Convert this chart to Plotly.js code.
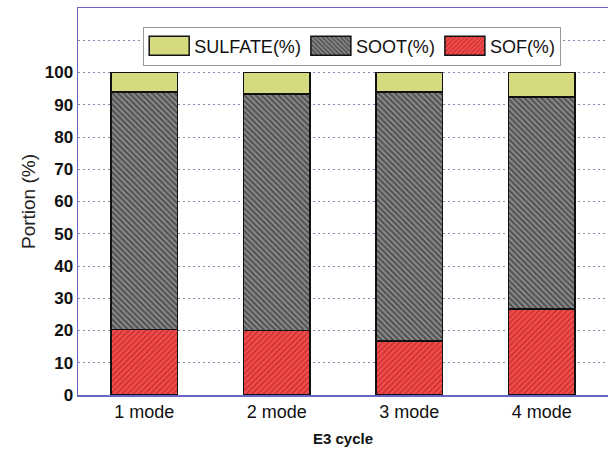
<!DOCTYPE html>
<html>
<head>
<meta charset="utf-8">
<script src="https://cdn.plot.ly/plotly-3.0.1.min.js"></script>
<style>html,body{margin:0;padding:0;overflow:hidden;background:#fff;}</style>
</head>
<body>
<div id="chart" style="width:608px;height:450px;"></div>
<script>
const categories = ["1 mode", "2 mode", "3 mode", "4 mode"];
const sof = [20.3, 20.0, 16.8, 26.6];
const soot = [73.7, 73.4, 77.1, 65.8];
const sulfate = [6.0, 6.6, 6.1, 7.6];
const yTickVals = [0, 10, 20, 30, 40, 50, 60, 70, 80, 90, 100, 110];
const yTickText = ["0", "10", "20", "30", "40", "50", "60", "70", "80", "90", "100", ""];

const line = {color: "#111", width: 1.5};
const traces = [
  {type: "bar", name: "SOF(%)", x: categories, y: sof, width: 0.5,
   marker: {color: "#f04848", line: line,
            pattern: {shape: "/", fgcolor: "#8a1010", bgcolor: "#f44c4c", size: 4, solidity: 0.35, fillmode: "overlay"}}},
  {type: "bar", name: "SOOT(%)", x: categories, y: soot, width: 0.5,
   marker: {color: "#808080", line: line,
            pattern: {shape: "\\", fgcolor: "#111", bgcolor: "#8c8c8c", size: 4, solidity: 0.5, fillmode: "overlay"}}},
  {type: "bar", name: "SULFATE(%)", x: categories, y: sulfate, width: 0.5,
   marker: {color: "#d5da7e", line: line}}
];

const axisColor = "#6a64c8";
const layout = {
  width: 608, height: 450,
  margin: {l: 78, r: 0, t: 8, b: 55},
  barmode: "stack",
  paper_bgcolor: "#fff", plot_bgcolor: "#fff",
  font: {family: "Liberation Sans, Arial, sans-serif", color: "#111"},
  showlegend: true,
  legend: {orientation: "h", traceorder: "reversed", x: 0.123, xanchor: "left", y: 0.952, yanchor: "top",
           bgcolor: "#fff", bordercolor: "#999", borderwidth: 1, font: {size: 18, color: "#111"},
           itemwidth: 40, tracegroupgap: 0},
  xaxis: {
    range: [-0.5, 3.5], showline: true, linecolor: axisColor, linewidth: 1.5, mirror: true,
    showgrid: false, ticks: "", tickfont: {size: 18, color: "#111"},
    title: {text: "<b>E3 cycle</b>", font: {size: 15, color: "#111"}, standoff: 12}
  },
  yaxis: {
    range: [0, 120], tickvals: yTickVals, ticktext: yTickText,
    showline: true, linecolor: axisColor, linewidth: 1.5, mirror: true,
    showgrid: true, gridcolor: "#8a8ab0", griddash: "2px,3px", gridwidth: 1,
    ticks: "", tickfont: {size: 17, color: "#111", weight: "bold"},
    title: {text: "Portion (%)", font: {size: 19, color: "#222"}, standoff: 4},
    zeroline: false
  }
};

Plotly.newPlot("chart", traces, layout, {displayModeBar: false, staticPlot: true}).then(function (gd) {
  // widen legend swatches to match the reference's broad rectangles
  gd.querySelectorAll(".legend .legendpoints path").forEach(function (p) {
    p.setAttribute("d", "M20,9.5H-20V-9.5H20Z");
  });
});
</script>
</body>
</html>
